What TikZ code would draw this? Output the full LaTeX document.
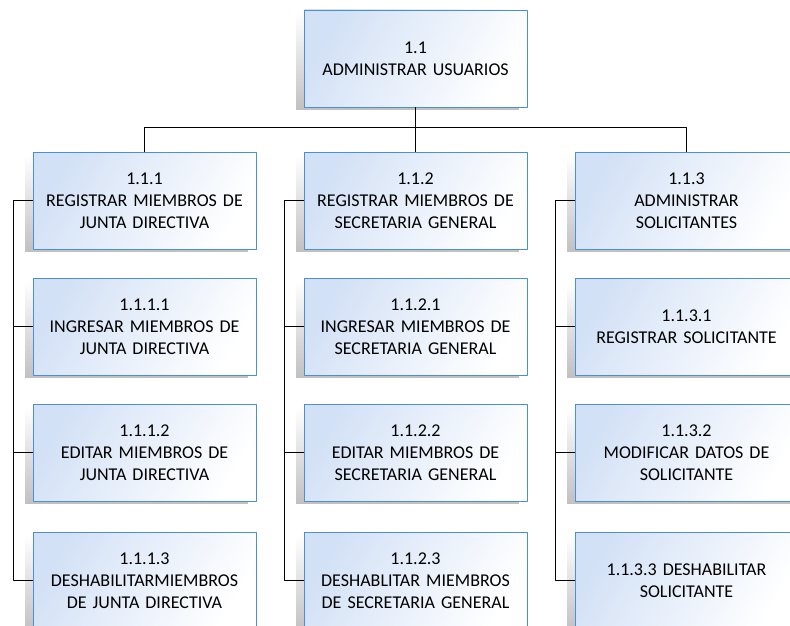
\documentclass[tikz,border=0pt]{standalone}
\usepackage{fontspec}
\setmainfont{Carlito}
\usetikzlibrary{shadows,fadings}
\definecolor{boxline}{HTML}{4A8FD8}
\definecolor{boxfill}{HTML}{D3E1F6}
\tikzset{
	wbs/.style={rectangle, draw=boxline, line width=0.9pt, minimum width=223pt, minimum height=97pt,
		align=center, text width=215pt, inner sep=0pt, left color=boxfill, right color=white, shading angle=60,
		font=\fontsize{18}{22}\selectfont,
		drop shadow={shadow xshift=-8pt, shadow yshift=-3pt, opacity=.45, fill=black!55, path fading=north}},
	link/.style={draw=black, line width=0.9pt}
}
\begin{document}
\begin{tikzpicture}[x=1pt, y=-1pt, line join=round]
		\useasboundingbox (0,0) rectangle (790,626);
		% top level
		\node[wbs] (top) at (415.5,58.5) {1.1\\ADMINISTRAR USUARIOS};
		% first column
		\node[wbs] (a)  at (144.5,200.5) {1.1.1\\REGISTRAR MIEMBROS DE\\JUNTA DIRECTIVA};
		\node[wbs] (a1) at (144.5,326.5) {1.1.1.1\\INGRESAR MIEMBROS DE\\JUNTA DIRECTIVA};
		\node[wbs] (a2) at (144.5,452.5) {1.1.1.2\\EDITAR MIEMBROS DE\\JUNTA DIRECTIVA};
		\node[wbs] (a3) at (144.5,580.5) {1.1.1.3\\DESHABILITARMIEMBROS\\DE JUNTA DIRECTIVA};
		% second column
		\node[wbs] (b)  at (415.5,200.5) {1.1.2\\REGISTRAR MIEMBROS DE\\SECRETARIA GENERAL};
		\node[wbs] (b1) at (415.5,326.5) {1.1.2.1\\INGRESAR MIEMBROS DE\\SECRETARIA GENERAL};
		\node[wbs] (b2) at (415.5,452.5) {1.1.2.2\\EDITAR MIEMBROS DE\\SECRETARIA GENERAL};
		\node[wbs] (b3) at (415.5,580.5) {1.1.2.3\\DESHABLITAR MIEMBROS\\DE SECRETARIA GENERAL};
		% third column
		\node[wbs] (c)  at (686.5,200.5) {1.1.3\\ADMINISTRAR\\SOLICITANTES};
		\node[wbs] (c1) at (686.5,326.5) {1.1.3.1\\REGISTRAR SOLICITANTE};
		\node[wbs] (c2) at (686.5,452.5) {1.1.3.2\\MODIFICAR DATOS DE\\SOLICITANTE};
		\node[wbs] (c3) at (686.5,580.5) {1.1.3.3 DESHABILITAR\\SOLICITANTE};
		% tree lines
		\foreach \n in {a,b,c}
			\draw[link] (top.south) -- ++(0,20) -| (\n.north);
		\foreach \n in {a,b,c}{
			\draw[link] (\n.west) -- ++(-19,0) |- (\n1.west);
			\draw[link] (\n.west) -- ++(-19,0) |- (\n2.west);
			\draw[link] (\n.west) -- ++(-19,0) |- (\n3.west);
		}
	\end{tikzpicture}
\end{document}
